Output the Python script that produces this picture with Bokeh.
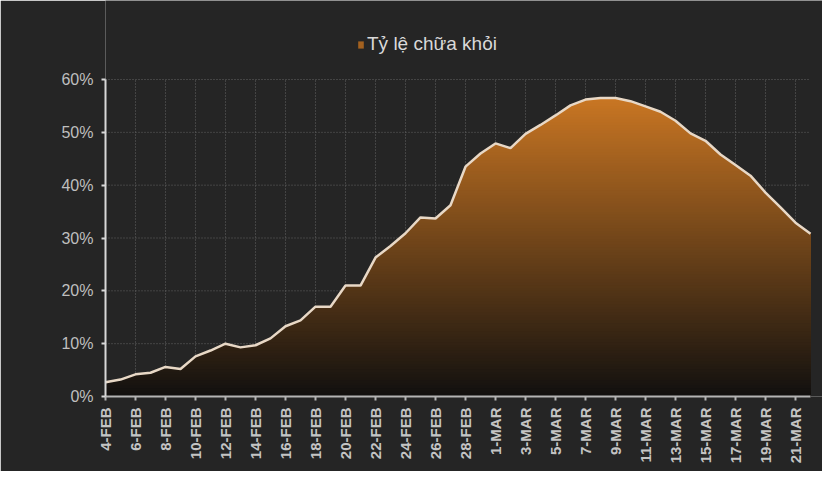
from bokeh.plotting import figure
from bokeh.models import Range1d, FixedTicker, PrintfTickFormatter, Legend, LegendItem
from bokeh.embed import file_html
from bokeh.resources import INLINE
import math

# ---------------- data ----------------
dates = ["4-FEB", "5-FEB", "6-FEB", "7-FEB", "8-FEB", "9-FEB", "10-FEB", "11-FEB",
         "12-FEB", "13-FEB", "14-FEB", "15-FEB", "16-FEB", "17-FEB", "18-FEB", "19-FEB",
         "20-FEB", "21-FEB", "22-FEB", "23-FEB", "24-FEB", "25-FEB", "26-FEB", "27-FEB",
         "28-FEB", "29-FEB", "1-MAR", "2-MAR", "3-MAR", "4-MAR", "5-MAR", "6-MAR",
         "7-MAR", "8-MAR", "9-MAR", "10-MAR", "11-MAR", "12-MAR", "13-MAR", "14-MAR",
         "15-MAR", "16-MAR", "17-MAR", "18-MAR", "19-MAR", "20-MAR", "21-MAR", "22-MAR"]
recovery_rate = [2.7, 3.2, 4.2, 4.5, 5.6, 5.2, 7.6, 8.7,
                 10.0, 9.3, 9.7, 11.0, 13.3, 14.4, 17.0, 17.0,
                 21.0, 21.0, 26.3, 28.5, 30.9, 33.9, 33.7, 36.2,
                 43.5, 46.0, 47.9, 47.0, 49.7, 51.4, 53.2, 55.1,
                 56.2, 56.5, 56.5, 55.9, 54.9, 53.9, 52.2, 49.8,
                 48.4, 45.8, 43.8, 41.8, 38.6, 35.8, 32.9, 30.8]
y_ticks = [0, 10, 20, 30, 40, 50, 60]
series_name = "Tỷ lệ chữa khỏi"

xs = list(range(len(dates)))
x_ticks = xs[::2]

BG = "#252525"
W, H = 822, 471
TOP, BOTTOM, LEFT, RIGHT = 0, 75, 105, 0
frame_h = H - TOP - BOTTOM
frame_w = W - LEFT - RIGHT
axis_px_y = 317   # pixel span of 0..60 %
axis_px_x = 705   # pixel span of first..last day
y_end = 60 * frame_h / axis_px_y
x_end = (len(dates) - 1) * frame_w / axis_px_x

p = figure(width=W, height=H, output_backend="svg", toolbar_location=None,
           x_range=Range1d(0, x_end), y_range=Range1d(0, y_end),
           min_border_left=LEFT, min_border_right=RIGHT, min_border_top=TOP,
           min_border_bottom=BOTTOM,
           background_fill_color=BG, border_fill_color=BG,
           outline_line_color=None)
p.grid.visible = False

# ---------------- dotted grid (drawn under the area) ----------------
GRID = "#646464"
p.segment(x0=[0] * (len(y_ticks) - 1), x1=[len(dates) - 1] * (len(y_ticks) - 1),
          y0=y_ticks[1:], y1=y_ticks[1:], line_color=GRID, line_dash="1 2", line_width=1)
p.segment(x0=x_ticks[1:], x1=x_ticks[1:], y0=[0] * (len(x_ticks) - 1),
          y1=[y_ticks[-1]] * (len(x_ticks) - 1), line_color=GRID, line_dash="1 2", line_width=1)

# ---------------- gradient area (stacked clipped bands) ----------------
top_c = (201, 118, 35)
bot_c = (17, 16, 15)
vmax = max(recovery_rate)
N = 110


def clip_curve(xv, yv, L):
    px, py = [], []
    for i in range(len(xv)):
        if i > 0:
            y0, y1 = yv[i - 1], yv[i]
            if (y0 - L) * (y1 - L) < 0:
                t = (L - y0) / (y1 - y0)
                px.append(xv[i - 1] + t * (xv[i] - xv[i - 1]))
                py.append(L)
        px.append(xv[i])
        py.append(min(yv[i], L))
    return px, py


legend_band = None
for k in range(N, 0, -1):
    L = 100.0 if k == N else vmax * k / N
    f = (k - 0.5) / N
    col = tuple(int(round(bot_c[j] + (top_c[j] - bot_c[j]) * f)) for j in range(3))
    px, py = clip_curve(xs, recovery_rate, L)
    r = p.varea(x=px, y1=[0] * len(px), y2=py, fill_color="#%02x%02x%02x" % col)
    if k == int(N * 0.8):
        legend_band = r

p.line(xs, recovery_rate, line_color="#e8d8c6", line_width=2.5)

# ---------------- legend ----------------
legend = Legend(items=[LegendItem(label=series_name, renderers=[legend_band])],
                location=(252, 341), orientation="horizontal",
                glyph_width=7, glyph_height=9, label_standoff=3, padding=0, margin=0,
                border_line_color=None, background_fill_color=None,
                label_text_font_size="19px", label_text_color="#d9d9d9",
                label_text_font="Liberation Sans")
p.add_layout(legend)

# ---------------- axes ----------------
p.xaxis.ticker = FixedTicker(ticks=x_ticks)
p.xaxis.bounds = (0, len(dates) - 1)
p.xaxis.major_label_overrides = {i: dates[i] for i in x_ticks}
p.xaxis.major_label_orientation = math.pi / 2
p.xaxis.major_label_text_font = "Liberation Sans"
p.xaxis.major_label_text_font_style = "bold"
p.xaxis.major_label_text_font_size = "15px"
p.xaxis.major_label_text_color = "#c4c4c4"
p.xaxis.major_label_standoff = 7
p.xaxis.axis_line_color = "#b4b4b4"
p.xaxis.axis_line_width = 2
p.xaxis.major_tick_line_color = "#b4b4b4"
p.xaxis.major_tick_line_width = 2
p.xaxis.major_tick_in = 0
p.xaxis.major_tick_out = 4
p.xaxis.minor_tick_line_color = None

p.yaxis.ticker = FixedTicker(ticks=y_ticks)
p.yaxis.bounds = (y_ticks[0], y_ticks[-1])
p.yaxis.formatter = PrintfTickFormatter(format="%d%%")
p.yaxis.major_label_text_font = "Liberation Sans"
p.yaxis.major_label_text_font_size = "16px"
p.yaxis.major_label_text_color = "#bfbfbf"
p.yaxis.major_label_standoff = 8
p.yaxis.axis_line_color = "#d8d8d8"
p.yaxis.axis_line_width = 2
p.yaxis.major_tick_line_color = "#d8d8d8"
p.yaxis.major_tick_line_width = 2
p.yaxis.major_tick_in = 0
p.yaxis.major_tick_out = 4
p.yaxis.minor_tick_line_color = None

open("out.html", "w").write(file_html(p, INLINE))
